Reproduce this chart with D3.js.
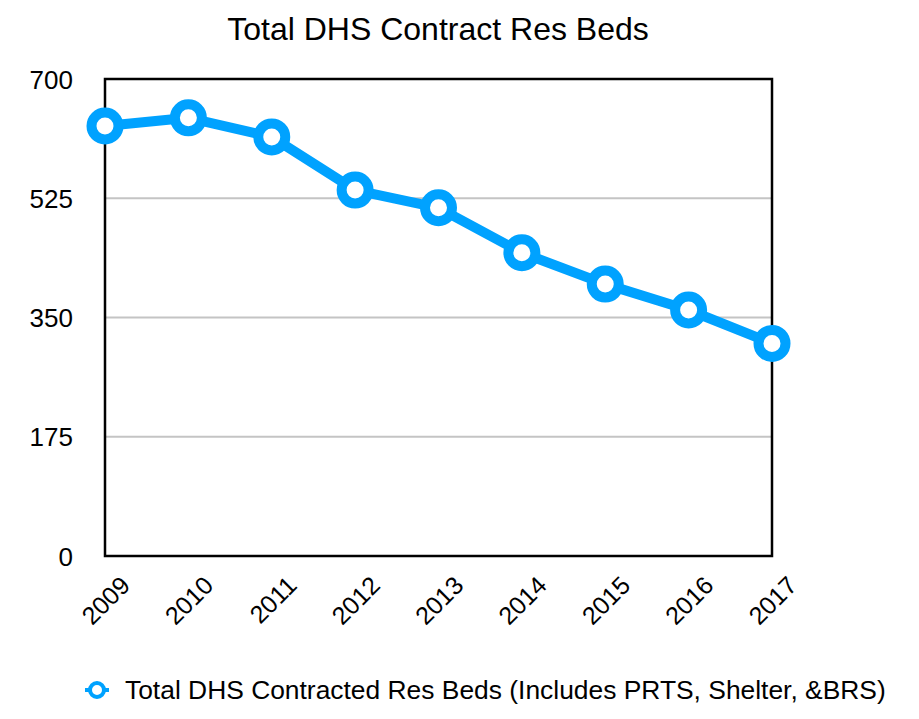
<!DOCTYPE html>
<html>
<head>
<meta charset="utf-8">
<script src="https://cdn.jsdelivr.net/npm/d3@7"></script>
<style>
  body { margin: 0; background: #fff; }
  text { font-family: "Liberation Sans", Arial, Helvetica, sans-serif; }
</style>
</head>
<body>
<div id="chart"></div>
<script>
// dati
var years = ["2009", "2010", "2011", "2012", "2013", "2014", "2015", "2016", "2017"];
var beds = [631, 643, 615, 537, 511, 445, 399, 361, 312];
var yTicks = [0, 175, 350, 525, 700];
var seriesName = "Total DHS Contracted Res Beds (Includes PRTS, Shelter, &BRS)";
var title = "Total DHS Contract Res Beds";

var W = 919, H = 719;
var margin = {top: 79, right: 147, bottom: 163, left: 105};
var width = W - margin.left - margin.right;
var height = H - margin.top - margin.bottom;
var blue = "#00a2ff";

var svg = d3.select("#chart")
	.append("svg")
	.attr("width", W)
	.attr("height", H);

svg.append("text")
	.attr("x", 438)
	.attr("y", 40)
	.attr("text-anchor", "middle")
	.style("font-size", "32px")
	.text(title);

var g = svg.append("g")
	.attr("transform", "translate(" + margin.left + "," + margin.top + ")");

var x = d3.scalePoint()
	.domain(years)
	.range([0, width]);

var y = d3.scaleLinear()
	.domain([0, 700])
	.range([height, 0]);

// griglia
g.append("g")
	.selectAll("line")
	.data(yTicks.filter(function(d) { return d > 0 && d < 700; }))
	.enter()
	.append("line")
	.attr("x1", 0)
	.attr("x2", width)
	.attr("y1", function(d) { return y(d); })
	.attr("y2", function(d) { return y(d); })
	.attr("stroke", "#c4c4c4")
	.attr("stroke-width", 2);

// cornice
g.append("rect")
	.attr("x", 0)
	.attr("y", 0)
	.attr("width", width)
	.attr("height", height)
	.attr("fill", "none")
	.attr("stroke", "#000")
	.attr("stroke-width", 2.5);

// asse Y
var yAxis = g.append("g")
	.call(d3.axisLeft(y).tickValues(yTicks).tickSize(0).tickPadding(32));
yAxis.select(".domain").remove();
yAxis.selectAll("text")
	.style("font-size", "26px")
	.attr("fill", "#000")
	.attr("dy", "0.35em");

// asse X
var xAxis = g.append("g")
	.attr("transform", "translate(0," + height + ")")
	.call(d3.axisBottom(x).tickSize(0));
xAxis.select(".domain").remove();
xAxis.selectAll("text")
	.style("font-size", "25px")
	.attr("fill", "#000")
	.attr("text-anchor", "end")
	.attr("y", 0)
	.attr("dy", "0")
	.attr("transform", "translate(26,31) rotate(-45)");

// linea
var data = years.map(function(d, i) { return {year: d, value: beds[i]}; });

var line = d3.line()
	.x(function(d) { return x(d.year); })
	.y(function(d) { return y(d.value); });

g.append("path")
	.datum(data)
	.attr("d", line)
	.attr("fill", "none")
	.attr("stroke", blue)
	.attr("stroke-width", 10)
	.attr("stroke-linejoin", "round");

g.append("g")
	.selectAll("circle")
	.data(data)
	.enter()
	.append("circle")
	.attr("cx", function(d) { return x(d.year); })
	.attr("cy", function(d) { return y(d.value); })
	.attr("r", 13.5)
	.attr("fill", "#fff")
	.attr("stroke", blue)
	.attr("stroke-width", 10);

// legenda
var leg = svg.append("g")
	.attr("transform", "translate(97,690)");
leg.append("line")
	.attr("x1", -12)
	.attr("x2", 12)
	.attr("stroke", blue)
	.attr("stroke-width", 4);
leg.append("circle")
	.attr("r", 7)
	.attr("fill", "#fff")
	.attr("stroke", blue)
	.attr("stroke-width", 4);
leg.append("text")
	.attr("x", 28)
	.attr("y", 9)
	.style("font-size", "26.4px")
	.text(seriesName);
</script>
</body>
</html>
